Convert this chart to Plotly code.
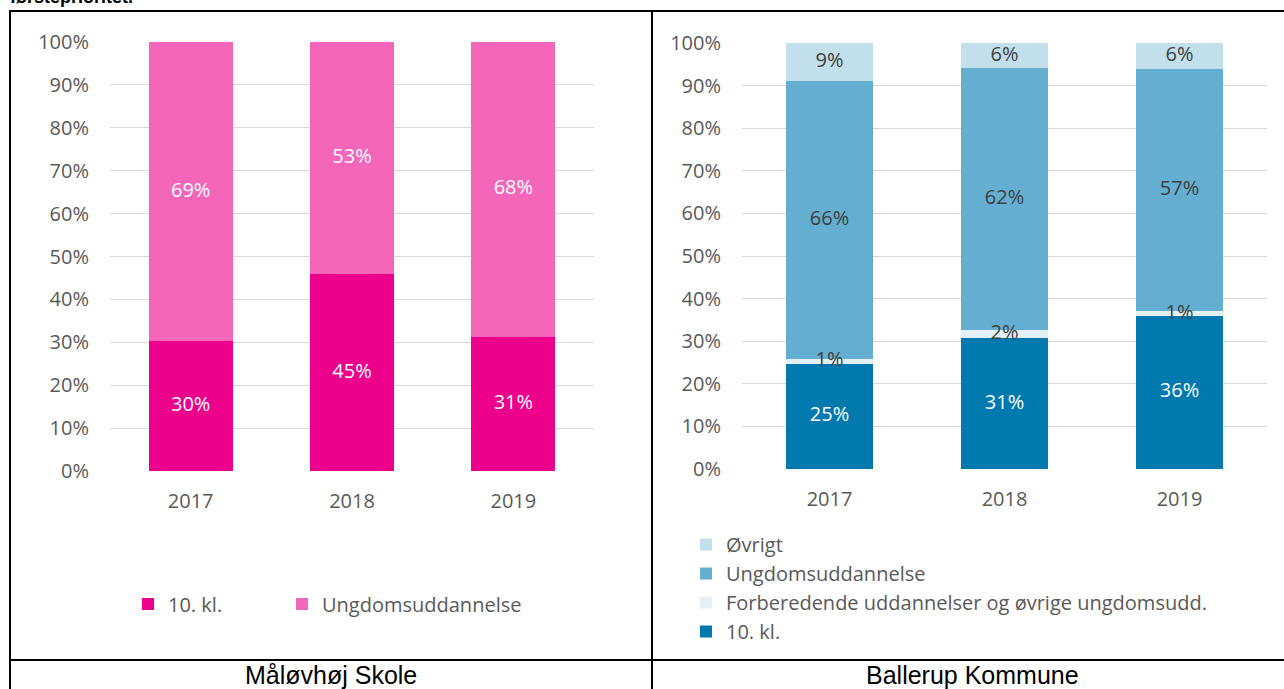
import plotly.graph_objects as go

W, H = 1284, 689

years = ["2017", "2018", "2019"]

# Måløvhøj Skole
maalov_10kl = [30, 45, 31]
maalov_ungdom = [69, 53, 68]

# Ballerup Kommune
ball_10kl = [25, 31, 36]
ball_forb = [1, 2, 1]
ball_ungdom = [66, 62, 57]
ball_ovrigt = [9, 6, 6]


def px(x):
    return x / W


def py(y):
    return 1 - y / H


FONT = "Open Sans"
GREY = "#595959"
DARK = "#404040"
LBL = 20


def midpoints(series):
    # midten af hvert segment i en 100% stablet søjle
    totals = [sum(v) for v in zip(*series)]
    out, base = [], [0] * len(totals)
    for s in series:
        out.append([(b + v / 2) / t * 100 for b, v, t in zip(base, s, totals)])
        base = [b + v for b, v in zip(base, s)]
    return out


fig = go.Figure()

left = [("10. kl.", maalov_10kl, "#EC008C", "white", "legend"),
        ("Ungdomsuddannelse", maalov_ungdom, "#F466BA", "white", "legend3")]
right = [("10. kl.", ball_10kl, "#0079AE", "white", "legend2"),
         ("Forberedende uddannelser og øvrige ungdomsudd.", ball_forb, "#E3F0F7", DARK, "legend2"),
         ("Ungdomsuddannelse", ball_ungdom, "#64AFD1", DARK, "legend2"),
         ("Øvrigt", ball_ovrigt, "#C2DFEC", DARK, "legend2")]

for series, xa, ya, w in [(left, "x", "y", 0.52), (right, "x2", "y2", 0.5)]:
    for name, vals, col, _, lg in series:
        fig.add_trace(go.Bar(x=years, y=vals, name=name, marker_color=col, marker_line_width=0,
                             xaxis=xa, yaxis=ya, legend=lg, width=w, hoverinfo="skip"))

# datalabels ovenpå søjlerne
for series, xa, ya in [(left, "x", "y"), (right, "x2", "y2")]:
    mids = midpoints([s[1] for s in series])
    for (name, vals, col, tcol, _), m in zip(series, mids):
        fig.add_trace(go.Scatter(x=years, y=m, mode="text", text=[f"{v}%" for v in vals],
                                 textposition="middle center",
                                 textfont=dict(family=FONT, size=LBL, color=tcol),
                                 xaxis=xa, yaxis=ya, showlegend=False, hoverinfo="skip"))

yax = dict(range=[0, 100], dtick=10, ticksuffix="%", showgrid=True, gridcolor="#D9D9D9",
           gridwidth=1, zeroline=False, showline=False, ticks="",
           tickfont=dict(family=FONT, size=LBL, color=GREY), ticklabelstandoff=20)
xax = dict(type="category", showgrid=False, zeroline=False, showline=False, ticks="",
           tickfont=dict(family=FONT, size=LBL, color=GREY), ticklabelstandoff=16)
leg = dict(font=dict(family=FONT, size=LBL, color=GREY), bgcolor="rgba(0,0,0,0)")

fig.update_layout(
    width=W, height=H,
    margin=dict(l=0, r=0, t=0, b=0, autoexpand=False),
    paper_bgcolor="white", plot_bgcolor="white",
    barmode="stack", barnorm="percent",
    font=dict(family=FONT, color=GREY),
    xaxis=dict(xax, domain=[px(110), px(594)], anchor="y"),
    yaxis=dict(yax, domain=[py(471), py(42)], anchor="x"),
    xaxis2=dict(xax, domain=[px(742), px(1267)], anchor="y2"),
    yaxis2=dict(yax, domain=[py(469), py(43)], anchor="x2"),
    legend=dict(leg, orientation="h", x=px(128), y=py(604), xanchor="left", yanchor="middle"),
    legend3=dict(leg, orientation="h", x=px(282), y=py(604), xanchor="left", yanchor="middle"),
    legend2=dict(leg, orientation="v", x=px(686), y=py(525), xanchor="left", yanchor="top",
                 traceorder="reversed"),
    showlegend=True,
)

# tabelramme
line = dict(color="black", width=2)
fig.add_shape(type="line", xref="paper", yref="paper", x0=px(9), x1=1, y0=py(11), y1=py(11), line=line)
fig.add_shape(type="line", xref="paper", yref="paper", x0=px(10), x1=px(10), y0=py(10), y1=0, line=line)
fig.add_shape(type="line", xref="paper", yref="paper", x0=px(652), x1=px(652), y0=py(10), y1=0, line=line)
fig.add_shape(type="line", xref="paper", yref="paper", x0=px(9), x1=1, y0=py(660), y1=py(660), line=line)

fig.add_annotation(text="<b>førsteprioritet.</b>", xref="paper", yref="paper", x=px(8), y=py(-3),
                   xanchor="left", yanchor="middle", showarrow=False,
                   font=dict(family="Liberation Sans", size=18, color="black"))
fig.add_annotation(text="Måløvhøj Skole", xref="paper", yref="paper", x=px(331), y=py(675),
                   xanchor="center", yanchor="middle", showarrow=False,
                   font=dict(family="Liberation Sans", size=25, color="black"))
fig.add_annotation(text="Ballerup Kommune", xref="paper", yref="paper", x=px(973), y=py(675),
                   xanchor="center", yanchor="middle", showarrow=False,
                   font=dict(family="Liberation Sans", size=25, color="black"))

fig.write_html("out.html", config={"displayModeBar": False},
               post_script="document.body.style.margin='0';document.body.style.overflow='hidden';")
